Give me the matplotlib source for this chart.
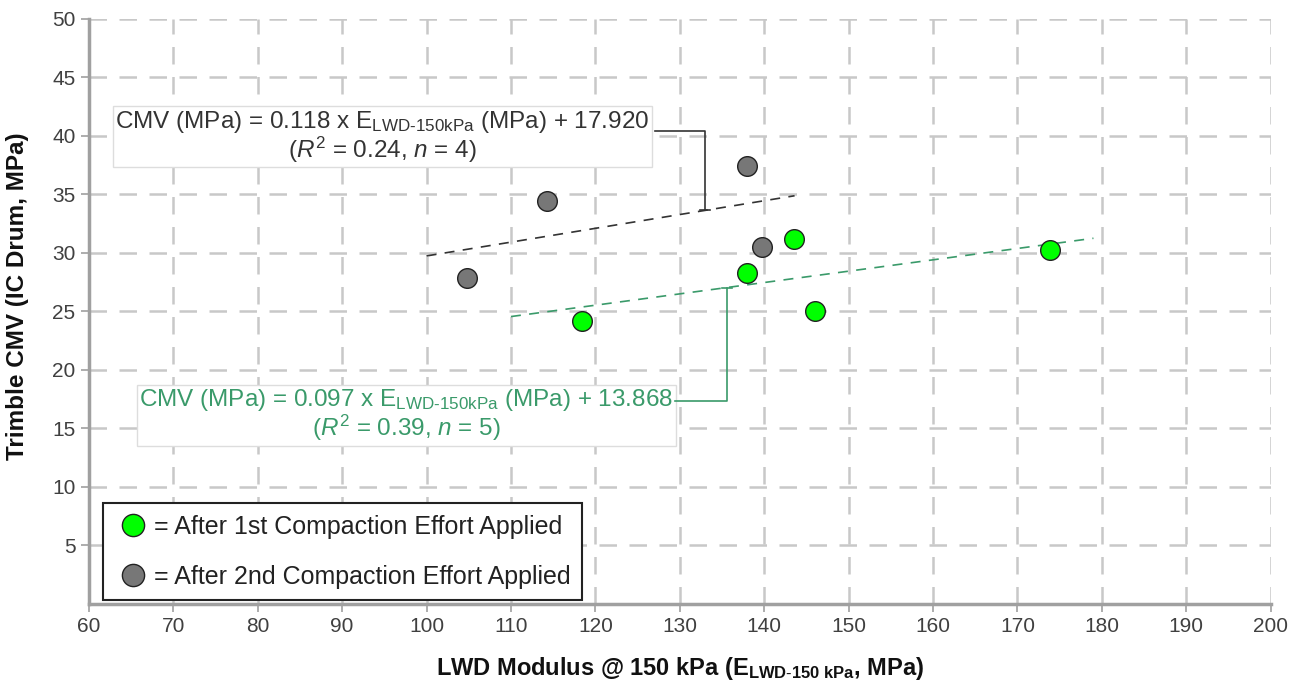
import matplotlib
matplotlib.use("Agg")
import matplotlib.pyplot as plt
from matplotlib.lines import Line2D
import numpy as np

plt.rcParams['font.family'] = ['Liberation Sans', 'DejaVu Sans']
plt.rcParams['mathtext.fontset'] = 'custom'
plt.rcParams['mathtext.rm'] = 'Liberation Sans'
plt.rcParams['mathtext.it'] = 'Liberation Sans:italic'
plt.rcParams['mathtext.bf'] = 'Liberation Sans:bold'

# Data
first_x = [118.4, 138.0, 143.5, 146.0, 173.9]
first_y = [24.2, 28.3, 31.2, 25.0, 30.2]
second_x = [104.8, 114.3, 138.0, 139.7]
second_y = [27.8, 34.4, 37.4, 30.5]

first_slope, first_icpt = 0.097, 13.868
second_slope, second_icpt = 0.118, 17.920
first_fit_range = [110, 179]
second_fit_range = [100, 143.6]

x_ticks = list(range(60, 201, 10))
y_ticks = list(range(5, 51, 5))

green = '#00ff00'
gray = '#777777'
fit_green = '#3a9a6a'
fit_gray = '#333333'

fig = plt.figure(figsize=(13.06, 6.93), dpi=100)
ax = fig.add_axes([0.068, 0.129, 0.905, 0.844])
ax.set_xlim(60, 200)
ax.set_ylim(0, 50)
ax.set_xticks(x_ticks)
ax.set_yticks(y_ticks)

ax.grid(True, color='#c8c8c8', linestyle=(0, (7, 5)), linewidth=1.8)
ax.set_axisbelow(True)
for s in ['top', 'right']:
    ax.spines[s].set_visible(False)
for s in ['left', 'bottom']:
    ax.spines[s].set_color('#a0a0a0')
    ax.spines[s].set_linewidth(2.5)
ax.tick_params(axis='both', colors='#a0a0a0', labelcolor='#404040', labelsize=15, length=6, width=1.2)

# trend lines
xs2 = np.array(second_fit_range)
ax.plot(xs2, second_slope * xs2 + second_icpt, color=fit_gray, linestyle=(0, (6, 5)), linewidth=1.2, zorder=2)
xs1 = np.array(first_fit_range)
ax.plot(xs1, first_slope * xs1 + first_icpt, color=fit_green, linestyle=(0, (6, 5)), linewidth=1.2, zorder=2)

ax.scatter(first_x, first_y, s=200, color=green, edgecolor='#222222', linewidth=1.0, zorder=4)
ax.scatter(second_x, second_y, s=200, color=gray, edgecolor='#222222', linewidth=1.0, zorder=4)

# annotations
t2 = ("CMV (MPa) = 0.118 x E$_{\\mathregular{LWD\\text{-}150kPa}}$ (MPa) + 17.920\n"
      "($\\mathit{R}^{2}$ = 0.24, $\\mathit{n}$ = 4)")
ax.text(94.8, 39.9, t2, ha='center', va='center', fontsize=17.5, color='#333333',
        linespacing=1.0, zorder=5,
        bbox=dict(boxstyle='square,pad=0.1', facecolor='white', edgecolor='#dddddd', linewidth=1))
xa = 133.0
ya = second_slope * xa + second_icpt
ax.plot([127.1, xa, xa], [40.4, 40.4, ya], color=fit_gray, linewidth=1.2, zorder=5)
ax.plot([xa - 0.6, xa + 0.6], [ya, ya], color=fit_gray, linewidth=1.2, zorder=5)

t1 = ("CMV (MPa) = 0.097 x E$_{\\mathregular{LWD\\text{-}150kPa}}$ (MPa) + 13.868\n"
      "($\\mathit{R}^{2}$ = 0.39, $\\mathit{n}$ = 5)")
ax.text(97.6, 16.1, t1, ha='center', va='center', fontsize=17.5, color=fit_green,
        linespacing=1.0, zorder=5,
        bbox=dict(boxstyle='square,pad=0.1', facecolor='white', edgecolor='#dddddd', linewidth=1))
xb = 135.6
yb = first_slope * xb + first_icpt
ax.plot([129.4, xb, xb], [17.3, 17.3, yb], color=fit_green, linewidth=1.2, zorder=5)
ax.plot([xb - 0.6, xb + 0.6], [yb, yb], color=fit_green, linewidth=1.2, zorder=5)

handles = [
    Line2D([], [], marker='o', linestyle='none', markersize=16, markerfacecolor=green, markeredgecolor='#222222'),
    Line2D([], [], marker='o', linestyle='none', markersize=16, markerfacecolor=gray, markeredgecolor='#222222'),
]
leg = ax.legend(handles, ['= After 1st Compaction Effort Applied', '= After 2nd Compaction Effort Applied'],
                loc='lower left', bbox_to_anchor=(0.012, 0.006), borderaxespad=0.0, fontsize=18,
                labelspacing=1.05, handletextpad=0.1, handlelength=1.5, borderpad=0.45,
                fancybox=False, framealpha=1, edgecolor='#222222')
leg.get_frame().set_linewidth(1.5)
for t in leg.get_texts():
    t.set_color('#222222')

ax.set_xlabel('LWD Modulus @ 150 kPa (E$_{\\mathregular{LWD\\text{-}150\\ kPa}}$, MPa)',
              fontsize=17, fontweight='bold', labelpad=14, color='#111111')
ax.set_ylabel('Trimble CMV (IC Drum, MPa)', fontsize=17.5, fontweight='bold', labelpad=12, color='#111111')
ax.yaxis.set_label_coords(-0.051, 0.525)

fig.savefig('out.png', dpi=100)
